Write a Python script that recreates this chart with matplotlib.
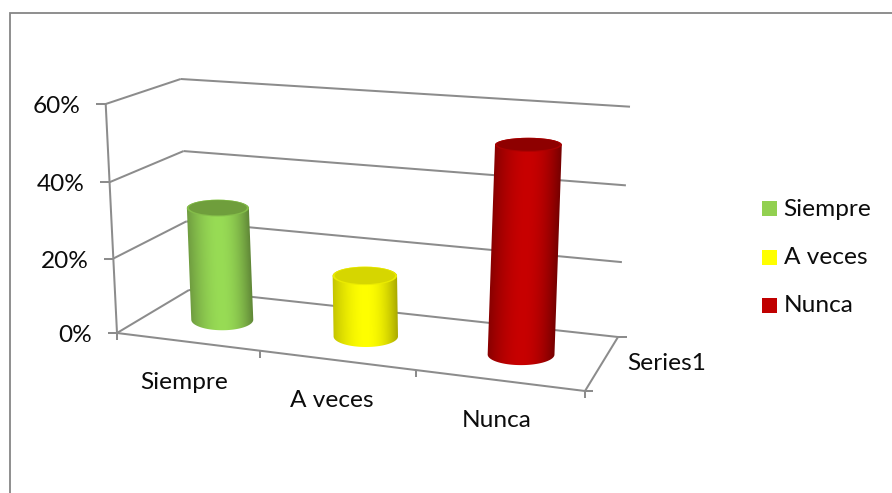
import numpy as np
import matplotlib
matplotlib.use("Agg")
import matplotlib.pyplot as plt
from matplotlib.colors import to_rgb
from matplotlib.patches import Ellipse, Rectangle, Polygon

categories = ["Siempre", "A veces", "Nunca"]
values = [0.305, 0.162, 0.533]
y_ticks = [0.0, 0.2, 0.4, 0.6]
y_tick_labels = ["0%", "20%", "40%", "60%"]
series_name = "Series1"
edge_colors = ["#6f9c40", "#c4c400", "#880000"]
center_colors = ["#98dc55", "#ffff00", "#c80000"]
cap_colors = ["#6f9e3c", "#d6d600", "#8e0000"]
legend_colors = ["#92d050", "#ffff00", "#c00000"]

GRAY = "#8c8c8c"
TEXT = "#0c0c0c"
FS = 17.6
W, H = 892, 493
YMAX = 0.6
plt.rcParams["font.family"] = ["Lato", "DejaVu Sans"]

fig = plt.figure(figsize=(W / 100, H / 100), dpi=100)
ax = fig.add_axes([0, 0, 1, 1])
ax.set_xlim(0, W)
ax.set_ylim(H, 0)
ax.axis("off")


def homography(corners):
    src = [(0, 0), (1, 0), (1, 1), (0, 1)]
    A, b = [], []
    for (u, v), (x, y) in zip(src, corners):
        A.append([u, v, 1, 0, 0, 0, -u * x, -v * x]); b.append(x)
        A.append([0, 0, 0, u, v, 1, -u * y, -v * y]); b.append(y)
    return np.append(np.linalg.solve(np.array(A, float), np.array(b, float)), 1).reshape(3, 3)


# plot box: front-left, front-right, back-right, back-left
FLOOR = homography([(117, 333), (585, 391), (618, 337), (189, 290)])
TOP = homography([(105.7, 104), (607, 141), (630, 106.7), (180.7, 79)])


def project(x, v, d):
    """x: category position 0..3, v: value, d: depth 0..1 -> pixel"""
    p = np.array([x / 3, d, 1.0])
    a = FLOOR @ p
    b = TOP @ p
    a, b = a[:2] / a[2], b[:2] / b[2]
    t = v / YMAX
    return a + (b - a) * t * (1 - 0.037 * (1 - t))


def line(p, q, lw=1.45):
    ax.plot([p[0], q[0]], [p[1], q[1]], color=GRAY, lw=lw, solid_capstyle="butt", zorder=1)


# outer frame
ax.plot([9.7, 9.7, W], [H, 12.5, 12.5], color="#868686", lw=1.3, solid_joinstyle="miter", zorder=1)

# walls and gridlines
for t, lab in zip(y_ticks, y_tick_labels):
    fl, bl, br = project(0, t, 0), project(0, t, 1), project(3, t, 1)
    line(fl, bl)
    line(bl, br)
    line(fl, fl + np.array([-9.5, 0]))
    ax.text(fl[0] - 25, fl[1] + 2.5, lab, ha="right", va="center", fontsize=FS, color=TEXT)
line(project(0, 0, 0), project(0, YMAX, 0))

# floor edges and ticks
fr, brf = project(3, 0, 0), project(3, 0, 1)
line(project(0, 0, 0), fr)
line(fr, brf)
line(brf, brf + np.array([9, 0]))
line(fr, fr + np.array([8, 0]))
for i in range(len(categories) + 1):
    p = project(i, 0, 0)
    line(p, p + np.array([0, 7]))

# cylinders
for i, (val, ec, cc, tc) in enumerate(zip(values, edge_colors, center_colors, cap_colors)):
    c0 = project(i + 0.512, 0, 0.475)
    c1 = project(i + 0.512, val, 0.475)
    half = 31 + 1.2 * i
    b0, b1 = 10.6, 10.2 - 6 * val
    ts = np.linspace(np.pi, 0, 121)
    # silhouette: top half-ellipse (back) joined to bottom half-ellipse (front)
    outline = [(c1[0] + half * np.cos(t), c1[1] - b1 * np.sin(t)) for t in ts]
    outline += [(c0[0] + half * np.cos(t), c0[1] + b0 * np.sin(t)) for t in ts[::-1]]
    xmin, xmax = int(min(c0[0], c1[0]) - half - 3), int(max(c0[0], c1[0]) + half + 3)
    ymin, ymax = int(c1[1] - b1 - 3), int(c0[1] + b0 + 3)
    xx, yy = np.meshgrid(np.arange(xmin, xmax) + 0.5, np.arange(ymin, ymax) + 0.5)
    axis_x = c0[0] + (c1[0] - c0[0]) * (yy - c0[1]) / (c1[1] - c0[1])
    f = np.clip((xx - axis_x) / half, -1, 1)   # -1 left edge, +1 right edge
    s = 1 - np.abs(f) ** 1.8
    e, c = np.array(to_rgb(ec)), np.array(to_rgb(cc))
    img = e[None, None, :] + (c - e)[None, None, :] * s[..., None]
    img = img * (1 - 0.14 * np.clip(f, 0, 1)[..., None] ** 3)
    im = ax.imshow(img, extent=(xmin, xmax, ymax, ymin), origin="upper", zorder=3,
                   interpolation="bilinear", aspect="auto")
    clip = Polygon(outline, closed=True, fc="none", ec="none", transform=ax.transData)
    ax.add_patch(clip)
    im.set_clip_path(clip)
    ax.add_patch(Ellipse(c1, 2 * half, 2 * b1, fc=0.5 * (np.array(to_rgb(tc)) + c), ec="none", zorder=4))
    ax.add_patch(Ellipse((c1[0], c1[1] - 0.3), 2 * half - 4, 2 * b1 - 1.6, fc=tc, ec="none", zorder=5))
ax.set_xlim(0, W)
ax.set_ylim(H, 0)

# category labels
offsets = [(-3, 41), (-4.5, 40), (-2, 40)]
for i, (name, off) in enumerate(zip(categories, offsets)):
    p = project(i + 0.5, 0, 0)
    ax.text(p[0] + off[0], p[1] + off[1], name, ha="center", va="center", fontsize=FS, color=TEXT)
ax.text(627, 364, series_name, ha="left", va="center", fontsize=FS, color=TEXT)

# legend
for name, col, y in zip(categories, legend_colors, [208.5, 257.5, 305.5]):
    ax.add_patch(Rectangle((762, y - 7.5), 15, 15, fc=col, ec="none", zorder=2))
    ax.text(783.5, y + 0.5, name, ha="left", va="center", fontsize=FS, color=TEXT)

fig.savefig("out.png", dpi=100)
